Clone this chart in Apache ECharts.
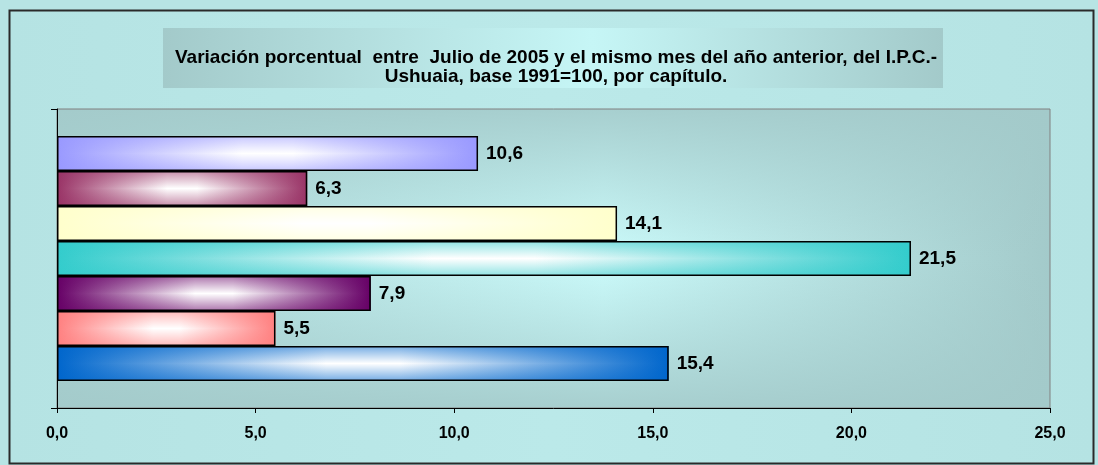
<!DOCTYPE html>
<html>
<head>
<meta charset="utf-8">
<script src="https://cdn.jsdelivr.net/npm/echarts@6/dist/echarts.min.js"></script>
<style>
html,body{margin:0;padding:0;background:#fff;}
#c{width:1098px;height:465px;}
</style>
</head>
<body>
<div id="c"></div>
<script>
// ---- data (top-to-bottom order as shown in the reference) ----
const titleLines = [
  'Variación porcentual  entre  Julio de 2005 y el mismo mes del año anterior, del I.P.C.-',
  'Ushuaia, base 1991=100, por capítulo.'
];
const categories = ['Capítulos'];
const seriesNames = ['Capítulo 1', 'Capítulo 2', 'Capítulo 3', 'Capítulo 4', 'Capítulo 5', 'Capítulo 6', 'Capítulo 7'];
const seriesValues = [10.6, 6.3, 14.1, 21.5, 7.9, 5.5, 15.4];
const seriesColors = ['#9999ff', '#993366', '#ffffcc', '#33cccc', '#660066', '#ff8080', '#0066cc'];
const xMin = 0, xMax = 25, xInterval = 5;

const FONT = '"Liberation Sans", Arial, Helvetica, sans-serif';
const fmt = v => Number(v).toFixed(1).replace('.', ',');

function rgba(hex, a) {
  const n = parseInt(hex.slice(1), 16);
  return 'rgba(' + ((n >> 16) & 255) + ',' + ((n >> 8) & 255) + ',' + (n & 255) + ',' + a + ')';
}

const chart = echarts.init(document.getElementById('c'), null, {renderer: 'canvas'});

const base = [], overlay = [];
seriesValues.forEach((v, i) => {
  const col = seriesColors[i];
  base.push({
    type: 'bar', name: seriesNames[i], xAxisIndex: 0, yAxisIndex: 0,
    data: [v], barWidth: 35, barGap: '0%',
    itemStyle: {
      color: new echarts.graphic.LinearGradient(0, 0, 1, 0, [
        {offset: 0, color: col}, {offset: 0.44, color: '#ffffff'}, {offset: 0.56, color: '#ffffff'}, {offset: 1, color: col}
      ])
    },
    label: {
      show: true, position: 'right', distance: 8,
      formatter: p => fmt(p.value),
      fontFamily: FONT, fontWeight: 'bold', fontSize: 19, color: '#000'
    },
    silent: true
  });
  overlay.push({
    type: 'bar', name: seriesNames[i], xAxisIndex: 1, yAxisIndex: 1,
    data: [v], barWidth: 35, barGap: '0%',
    itemStyle: {
      color: new echarts.graphic.LinearGradient(0, 0, 0, 1, [
        {offset: 0, color: rgba(col, 0.55)}, {offset: 0.5, color: rgba(col, 0)}, {offset: 1, color: rgba(col, 0.55)}
      ]),
      borderColor: '#000', borderWidth: 1.5
    },
    silent: true
  });
});

const option = {
  animation: false,
  backgroundColor: '#b7e4e4',
  title: {
    text: titleLines.join('\n'),
    left: 556, top: 48, padding: 0, textAlign: 'center',
    textStyle: {fontFamily: FONT, fontWeight: 'bold', fontSize: 19, lineHeight: 19, color: '#000'}
  },
  graphic: [
    {
      type: 'rect', z: -10, silent: true,
      shape: {x: 9.5, y: 10.5, width: 1084, height: 453},
      style: {
        fill: new echarts.graphic.LinearGradient(0, 0, 1, 0, [
          {offset: 0, color: '#b5e3e3'}, {offset: 0.5, color: '#bbe9e9'}, {offset: 1, color: '#b5e3e3'}
        ]),
        stroke: '#2a2a2a', lineWidth: 2
      }
    },
    {
      type: 'rect', z: -9, silent: true,
      shape: {x: 163, y: 28, width: 780, height: 60},
      style: {
        fill: new echarts.graphic.LinearGradient(0, 0, 1, 0, [
          {offset: 0, color: '#a3caca'}, {offset: 0.55, color: '#c6f6f6'}, {offset: 1, color: '#a3caca'}
        ])
      }
    }
  ],
  grid: [
    {
      left: 57, right: 48, top: 109, bottom: 57, show: true, borderWidth: 0,
      backgroundColor: new echarts.graphic.LinearGradient(0, 0, 1, 0, [
        {offset: 0, color: '#abd3d3'}, {offset: 0.55, color: '#ccfcfc'}, {offset: 1, color: '#a3caca'}
      ])
    },
    {
      left: 57, right: 48, top: 109, bottom: 57, show: true,
      borderColor: '#808080', borderWidth: 1,
      backgroundColor: new echarts.graphic.LinearGradient(0, 0, 0, 1, [
        {offset: 0, color: 'rgba(163,202,202,0.9)'}, {offset: 0.5, color: 'rgba(163,202,202,0)'}, {offset: 1, color: 'rgba(163,202,202,0.9)'}
      ])
    }
  ],
  xAxis: [
    {
      type: 'value', gridIndex: 0, min: xMin, max: xMax, interval: xInterval,
      axisLine: {show: true, lineStyle: {color: '#000', width: 1}},
      axisTick: {show: true, length: 5, lineStyle: {color: '#000'}},
      splitLine: {show: false},
      axisLabel: {formatter: v => fmt(v), fontFamily: FONT, fontWeight: 'bold', fontSize: 16, color: '#000', margin: 18}
    },
    {type: 'value', gridIndex: 1, min: xMin, max: xMax, interval: xInterval, show: false}
  ],
  yAxis: [
    {
      type: 'category', gridIndex: 0, data: categories,
      axisLine: {show: true, lineStyle: {color: '#000', width: 1}},
      axisTick: {show: true, length: 6, lineStyle: {color: '#000'}},
      axisLabel: {show: false}
    },
    {type: 'category', gridIndex: 1, data: categories, show: false}
  ],
  series: base.concat(overlay)
};
chart.setOption(option);
</script>
</body>
</html>
